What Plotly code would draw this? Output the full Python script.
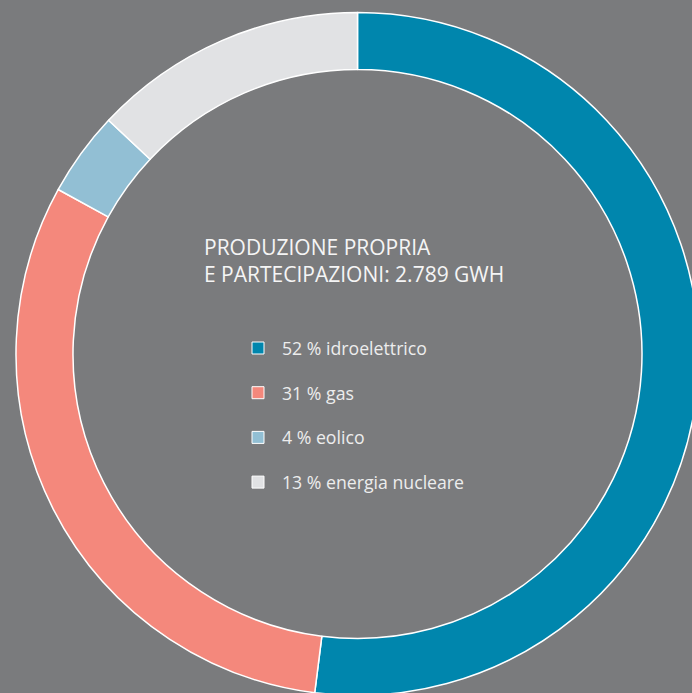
import plotly.graph_objects as go

# Energy production mix (share in %)
sources = ["idroelettrico", "gas", "eolico", "energia nucleare"]
shares = [52, 31, 4, 13]
colors = ["#0086AD", "#F4887C", "#92BFD4", "#E1E2E4"]
title_lines = ["PRODUZIONE PROPRIA", "E PARTECIPAZIONI: 2.789 GWH"]

W, H = 700, 700
BG = "#7A7B7D"
FONT = "Open Sans"

# donut geometry in pixels
cx, cy, r_out = 357.5, 354.0, 341.5
r_in = 284.5

fig = go.Figure()
fig.add_trace(go.Pie(
    labels=sources,
    values=shares,
    sort=False,
    direction="clockwise",
    rotation=0,
    hole=r_in / r_out,
    marker=dict(colors=colors, line=dict(color="white", width=1.5)),
    textinfo="none",
    hoverinfo="label+percent",
    showlegend=False,
    domain=dict(x=[(cx - r_out) / W, (cx + r_out) / W],
                y=[1 - (cy + r_out) / H, 1 - (cy - r_out) / H]),
))

# legend rows: square swatch + label, laid out on a hidden axis
row_y0, row_step = 348, 44.7
legend_y = [1 - (row_y0 + i * row_step) / H for i in range(len(sources))]
fig.add_trace(go.Scatter(
    x=[258 / W] * len(sources),
    y=legend_y,
    mode="markers",
    marker=dict(symbol="square", size=12, color=colors,
                line=dict(color="white", width=1)),
    hoverinfo="skip",
    showlegend=False,
    xaxis="x", yaxis="y",
))
for s, v, yy in zip(sources, shares, legend_y):
    fig.add_annotation(
        x=280 / W, y=yy, xref="paper", yref="paper",
        text=f"{v} % {s}", showarrow=False, xanchor="left", yanchor="middle",
        font=dict(family=FONT, size=17.7, color="#EDEDED"),
    )

fig.add_annotation(
    x=202 / W, y=1 - 231 / H, xref="paper", yref="paper",
    text="<br>".join(title_lines), showarrow=False, align="left",
    xanchor="left", yanchor="top",
    font=dict(family=FONT, size=21, color="#F5F5F5"),
)

fig.update_layout(
    width=W, height=H,
    margin=dict(l=0, r=0, t=0, b=0),
    paper_bgcolor=BG, plot_bgcolor=BG,
    xaxis=dict(range=[0, 1], visible=False, fixedrange=True, domain=[0, 1]),
    yaxis=dict(range=[0, 1], visible=False, fixedrange=True, domain=[0, 1]),
)

fig.write_html(
    "out.html",
    post_script="document.documentElement.style.overflow='hidden';"
                "document.body.style.overflow='hidden';"
                "document.body.style.margin='0';",
)
